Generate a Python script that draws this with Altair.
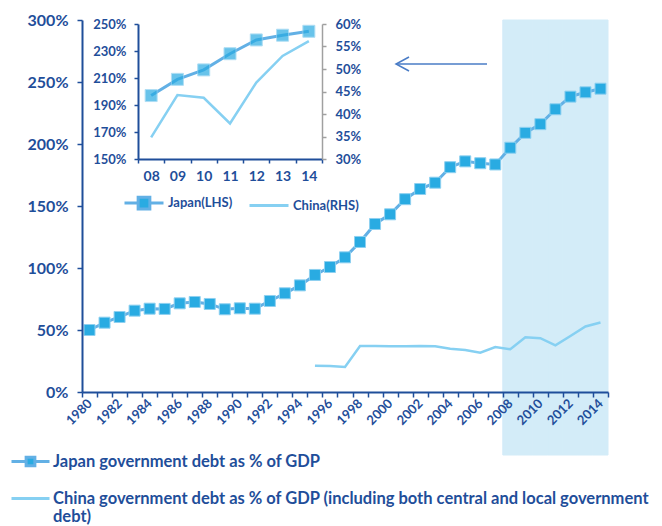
import altair as alt
import pandas as pd

# ---------------- data ----------------
years = list(range(1980, 2015))
japan = [50, 55.9, 60.5, 65.6, 67.2, 67, 71.5, 72.6, 71, 66.7,
         67.5, 67.2, 73.4, 79.6, 86, 94.4, 100.8, 108.6, 121, 135.5,
         143.3, 155.5, 163.7, 168.8, 181.3, 186, 184.5, 183.5, 197, 209,
         216, 228, 238.2, 241.7, 244.6]
china_years = list(range(1995, 2015))
china = [21.2, 21, 20.2, 37.1, 37.1, 36.8, 36.9, 37.1, 36.9, 34.9,
         33.9, 31.7, 36.3, 34.5, 44.1, 43.4, 37.6, 45.2, 52.8, 56]
shade_years = list(range(2008, 2015))
inset_years = list(range(2008, 2015))
inset_japan = [197, 209, 216, 228, 238.2, 241.7, 244.6]
inset_china = [34.8, 44.2, 43.6, 37.9, 47, 52.9, 56.2]
main_y_ticks = [0, 50, 100, 150, 200, 250, 300]
inset_lhs_ticks = [150, 170, 190, 210, 230, 250]
inset_rhs_ticks = [30, 35, 40, 45, 50, 55, 60]
legend_main = ["Japan government debt as % of GDP",
               "China government debt as % of GDP (including both central and local government debt)"]
legend_inset = ["Japan(LHS)", "China(RHS)"]

# ---------------- style ----------------
DARK = "#1F4E9A"
JP_LINE = "#62B0E5"
JP_FILL = "#29ABE2"
JP_EDGE = "#8ED0F0"
CN_LINE = "#86D0F2"
SHADE = "#D3ECF8"
ARROW = "#4A7CC6"
GREY = "#A0A0A0"
FONT = "Lato"
W, H = 526, 372

main_df = pd.DataFrame({"year": years, "value": japan})
china_df = pd.DataFrame({"year": china_years, "value": china})
shade_df = pd.DataFrame({"year": shade_years})
ij_df = pd.DataFrame({"year": inset_years, "value": inset_japan})
ic_df = pd.DataFrame({"year": inset_years, "value": inset_china})

x_axis = alt.Axis(orient="bottom", tickBand="extent", labelAngle=-45, labelAlign="right",
                  labelBaseline="middle", labelOverlap=False,
                  labelExpr="toNumber(datum.value) % 2 == 0 ? datum.label : ''",
                  labelFont=FONT, labelFontSize=13, labelFontWeight="bold", labelColor=DARK,
                  domainColor=DARK, domainWidth=2, tickColor=DARK, tickWidth=1.5, tickSize=5,
                  labelPadding=4, zindex=2, title=None)
x_scale = alt.Scale(type="band", domain=years, paddingInner=0, paddingOuter=0)
y_axis = alt.Axis(values=main_y_ticks, labelExpr="datum.value + '%'", labelFont=FONT,
                  labelFontSize=16, labelFontWeight="bold", labelColor=DARK, domainColor=DARK,
                  domainWidth=2, tickColor=DARK, tickWidth=1.5, tickSize=5, labelPadding=9,
                  title=None, zindex=2)
y_scale = alt.Scale(domain=[0, 300])

def xm(center=True):
    if center:
        return alt.X("year:O", scale=x_scale, axis=x_axis, bandPosition=0.5)
    return alt.X("year:O", scale=x_scale, axis=x_axis)

ym = alt.Y("value:Q", scale=y_scale, axis=y_axis)

shade = alt.Chart(shade_df).mark_rect(color=SHADE, stroke=SHADE, strokeWidth=1).encode(
    x=xm(False), y=alt.value(0), y2=alt.value(435))
jp_line = alt.Chart(main_df).mark_line(color=JP_LINE, strokeWidth=3).encode(x=xm(), y=ym)
jp_pts = alt.Chart(main_df).mark_square(size=121, color=JP_FILL, stroke=JP_EDGE,
                                        strokeWidth=1, opacity=1).encode(x=xm(), y=ym)
cn_line = alt.Chart(china_df).mark_line(color=CN_LINE, strokeWidth=2.5).encode(x=xm(), y=ym)
main = alt.layer(shade, jp_line, cn_line, jp_pts)

# ---------------- inset ----------------
xin = alt.X("year:O",
            scale=alt.Scale(type="band", domain=inset_years, range=[56, 240],
                            paddingInner=0, paddingOuter=0),
            bandPosition=0.5,
            axis=alt.Axis(orient="bottom", offset=-(H - 139), tickBand="extent", labelAngle=0,
                          labelExpr="slice(datum.label, 2)", labelFont=FONT, labelFontSize=14,
                          labelFontWeight="bold", labelColor=DARK, domainColor=DARK,
                          domainWidth=2, tickColor=DARK, tickWidth=1.5, tickSize=4,
                          labelPadding=6, title=None, labelOverlap=False))
yin_l = alt.Y("value:Q", scale=alt.Scale(domain=[150, 250], range=[139, 4]),
              axis=alt.Axis(orient="left", offset=-56, values=inset_lhs_ticks,
                            labelExpr="datum.value + '%'", labelFont=FONT, labelFontSize=13,
                            labelFontWeight="bold", labelColor=DARK, domainColor=DARK,
                            domainWidth=2, tickColor=DARK, tickWidth=1.5, tickSize=4,
                            labelPadding=8, title=None))
yin_r = alt.Y("value:Q", scale=alt.Scale(domain=[30, 60], range=[139, 4]),
              axis=alt.Axis(orient="right", offset=-(W - 240), values=inset_rhs_ticks,
                            labelExpr="datum.value + '%'", labelFont=FONT, labelFontSize=13,
                            labelFontWeight="bold", labelColor=DARK, domainColor=GREY,
                            domainWidth=1.5, tickColor=GREY, tickWidth=1.5, tickSize=4,
                            labelPadding=9, title=None))
ij_line = alt.Chart(ij_df).mark_line(color=JP_LINE, strokeWidth=3).encode(x=xin, y=yin_l)
ij_pts = alt.Chart(ij_df).mark_square(size=144, color=JP_FILL, stroke=JP_EDGE,
                                      strokeWidth=1).encode(x=xin, y=yin_l)
ic_line = alt.Chart(ic_df).mark_line(color=CN_LINE, strokeWidth=2.5).encode(x=xin, y=yin_r)
inset = alt.layer(alt.layer(ij_line, ij_pts), ic_line).resolve_scale(y="independent")

# ---------------- arrow ----------------
arrow_df = pd.DataFrame({"a": [0]})
arrow_line = alt.Chart(arrow_df).mark_rule(color=ARROW, strokeWidth=1.5).encode(
    x=alt.value(314), x2=alt.value(405), y=alt.value(44))
arrow_head = alt.Chart(arrow_df).mark_point(shape="M 1.86 -1 L 0 0 L 1.86 1", filled=False,
                                            color=ARROW, strokeWidth=1.5, size=196,
                                            opacity=1).encode(
    x=alt.value(314), y=alt.value(44))

# ---------------- legends ----------------
SQ_MAIN = "M -1 0 L -0.23 0 M 0.23 0 L 1 0 M -0.23 -0.23 L 0.23 -0.23 L 0.23 0.23 L -0.23 0.23 Z"
LINE = "M -1 0 L 1 0"
china_lbl = legend_main[1]
split_expr = ("datum.label == '" + china_lbl + "' ? ['" +
              "China government debt as % of GDP (including both central and local government"
              + "', 'debt)'] : datum.label")
lg_main = alt.Legend(title=None, orient="none", legendX=-72, legendY=421, direction="vertical",
                     symbolSize=1444, symbolStrokeWidth=3, symbolOpacity=1, padding=0,
                     labelFont=FONT, labelFontSize=16.5, labelFontWeight="bold", labelColor=DARK,
                     labelLimit=900, rowPadding=6, labelOffset=2, labelExpr=split_expr,
                     labelBaseline="middle")
lm_df = pd.DataFrame({"series": legend_main})
legend_main_layer = alt.Chart(lm_df).mark_point(opacity=0, filled=True).encode(
    shape=alt.Shape("series:N", scale=alt.Scale(domain=legend_main, range=[SQ_MAIN, LINE]),
                    legend=lg_main),
    fill=alt.Fill("series:N", scale=alt.Scale(domain=legend_main, range=[JP_FILL, "transparent"]),
                  legend=lg_main),
    stroke=alt.Stroke("series:N", scale=alt.Scale(domain=legend_main, range=[JP_LINE, CN_LINE]),
                      legend=lg_main))

SQ_IN = "M -1 0 L -0.3 0 M 0.3 0 L 1 0 M -0.3 -0.3 L 0.3 -0.3 L 0.3 0.3 L -0.3 0.3 Z"
lg_in = alt.Legend(title=None, orient="none", legendX=41, legendY=162, direction="horizontal",
                   symbolSize=1521, symbolStrokeWidth=3, symbolOpacity=1, padding=0,
                   labelFont=FONT, labelFontSize=13, labelFontWeight="bold", labelColor=DARK,
                   labelLimit=300, columnPadding=10, labelOffset=3)
li_df = pd.DataFrame({"series2": legend_inset})
legend_inset_layer = alt.Chart(li_df).mark_point(opacity=0, filled=True).encode(
    shape=alt.Shape("series2:N", scale=alt.Scale(domain=legend_inset, range=[SQ_IN, LINE]),
                    legend=lg_in),
    fill=alt.Fill("series2:N", scale=alt.Scale(domain=legend_inset, range=[JP_FILL, "transparent"]),
                  legend=lg_in),
    stroke=alt.Stroke("series2:N", scale=alt.Scale(domain=legend_inset, range=[JP_LINE, CN_LINE]),
                      legend=lg_in))

chart = alt.layer(main, inset, arrow_line, arrow_head, legend_main_layer,
                  legend_inset_layer).resolve_scale(
    x="independent", y="independent", shape="independent", fill="independent",
    stroke="independent"
).properties(
    width=W, height=H, autosize="none",
    padding={"left": 74, "top": 12, "right": 46, "bottom": 134}
).configure_view(stroke=None).configure_axis(grid=False)

chart.save("out.html", embed_options={"renderer": "svg", "actions": False})
